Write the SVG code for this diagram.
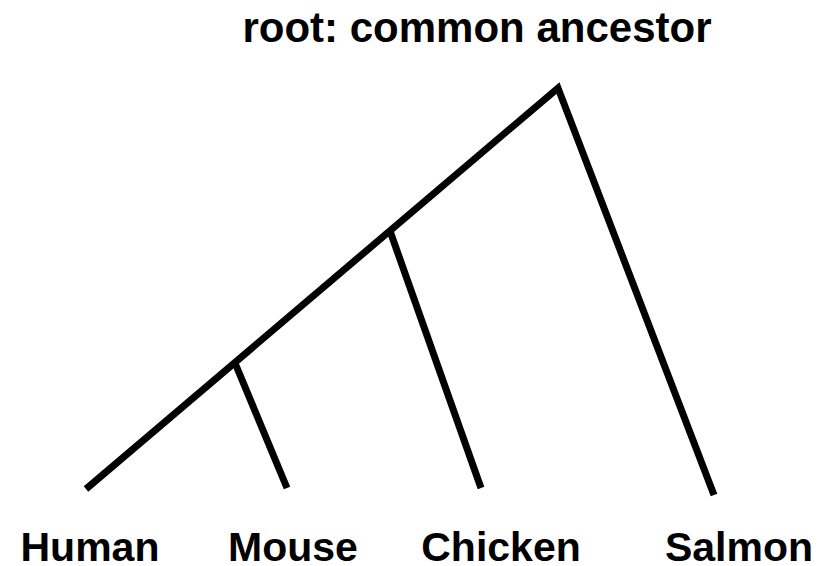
<svg xmlns="http://www.w3.org/2000/svg" width="832" height="566" viewBox="0 0 832 566">
<style>
.edge{stroke:#000;stroke-width:7;fill:none;stroke-linecap:butt;stroke-linejoin:miter}
.lbl{font-family:"Liberation Sans",Arial,sans-serif;font-weight:bold;fill:#000;text-anchor:middle}
</style>
<rect width="832" height="566" fill="#fff"/>
<g id="connectors">
<polyline class="edge" points="86,489 558,88 714,495"/>
<line class="edge" x1="235" y1="363" x2="287" y2="488"/>
<line class="edge" x1="390" y1="231" x2="481" y2="488"/>
</g>
<g id="root"><text class="lbl" x="477" y="42" font-size="42">root: common ancestor</text></g>
<g id="human"><text class="lbl" x="90" y="561" font-size="41">Human</text></g>
<g id="mouse"><text class="lbl" x="293" y="561" font-size="41">Mouse</text></g>
<g id="chicken"><text class="lbl" x="501" y="561" font-size="41">Chicken</text></g>
<g id="salmon"><text class="lbl" x="739" y="561" font-size="41">Salmon</text></g>
</svg>
